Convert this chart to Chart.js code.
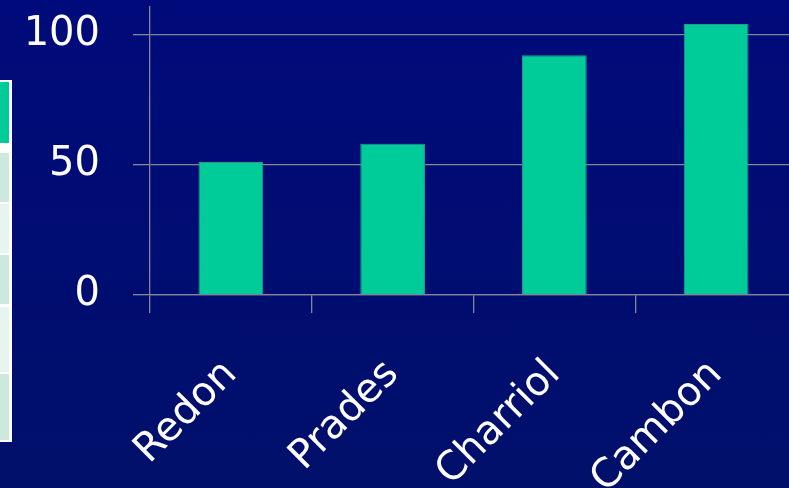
<!DOCTYPE html>
<html>
<head>
<meta charset="utf-8">
<script src="https://cdn.jsdelivr.net/npm/chart.js@4/dist/chart.umd.min.js"></script>
<style>
  html, body { margin: 0; padding: 0; }
  body {
    width: 789px; height: 488px; overflow: hidden; position: relative;
    background: linear-gradient(to bottom, #000b7b 0%, #000d70 60%, #00106a 100%);
  }
  #wrap { position: absolute; left: 0; top: 0; width: 830px; height: 488px; }
  #tbl { position: absolute; left: 0; top: 80px; width: 12px; height: 362px; background: #ffffff; }
  #tbl div { position: absolute; left: 0; width: 9px; }
</style>
</head>
<body>
<div id="tbl">
  <div style="top:2px;height:61px;background:#00cc99"></div>
  <div style="top:73px;height:49px;background:#cde9dd"></div>
  <div style="top:124px;height:49px;background:#e7f5ef"></div>
  <div style="top:175px;height:49px;background:#cde9dd"></div>
  <div style="top:227px;height:65px;background:#e7f5ef"></div>
  <div style="top:294px;height:66px;background:#cde9dd"></div>
</div>
<div id="wrap"><canvas id="c"></canvas></div>
<script>
const categories = ["Redon", "Prades", "Charriol", "Cambon"];
const values = [51, 58, 92, 104];
const yTicks = [0, 50, 100];

const FONT = "'Comic Sans MS', 'DejaVu Sans', sans-serif";
const GRID = "#858595";

new Chart(document.getElementById("c"), {
  type: "bar",
  data: {
    labels: categories,
    datasets: [{
      data: values,
      backgroundColor: "#00cc99",
      borderColor: "#2a9a8c",
      borderWidth: 1,
      barPercentage: 0.4,
      categoryPercentage: 1.0
    }]
  },
  options: {
    responsive: true,
    maintainAspectRatio: false,
    animation: false,
    layout: { padding: { top: 7, right: 33, left: 0, bottom: 0 } },
    plugins: { legend: { display: false }, tooltip: { enabled: false } },
    scales: {
      x: {
        grid: { display: true, drawOnChartArea: false, drawTicks: true, tickLength: 18, color: GRID, lineWidth: 1.3, offset: true },
        border: { display: true, color: GRID, width: 1.3 },
        ticks: {
          color: "#ffffff", font: { family: FONT, size: 40 },
          minRotation: 45, maxRotation: 45, autoSkip: false, padding: 38
        },
        afterFit: s => { s.height = 193; s.paddingLeft = 0; s.paddingRight = 0; s.paddingTop = 0; s.paddingBottom = 0; }
      },
      y: {
        min: 0, max: 110.5,
        afterBuildTicks: s => { s.ticks = yTicks.map(v => ({ value: v })); },
        grid: { color: GRID, lineWidth: 1.3, tickLength: 17, drawTicks: true },
        border: { display: true, color: GRID, width: 1.3 },
        ticks: { color: "#ffffff", font: { family: FONT, size: 40 }, padding: 33 },
        afterFit: s => { s.width = 150; s.paddingTop = 0; s.paddingBottom = 0; s.paddingLeft = 0; s.paddingRight = 0; }
      }
    }
  }
});
</script>
</body>
</html>
